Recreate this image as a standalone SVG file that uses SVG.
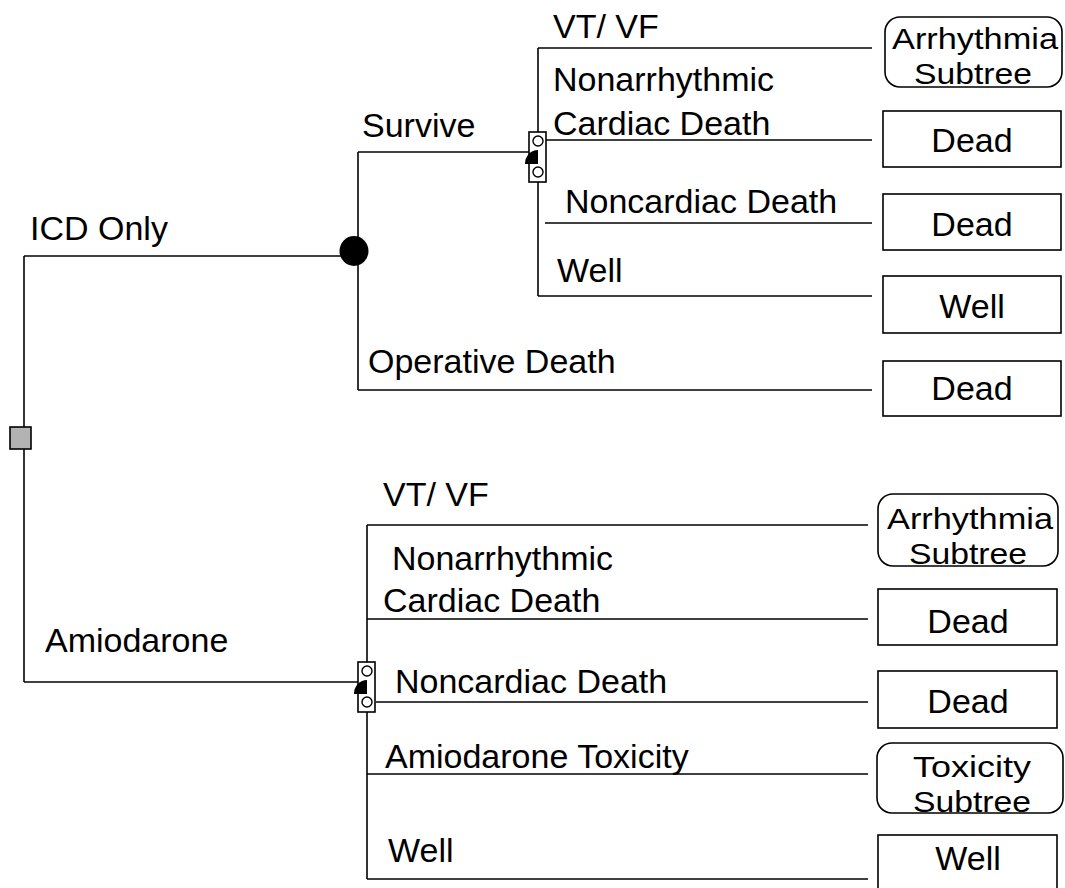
<svg xmlns="http://www.w3.org/2000/svg" width="1065" height="888" viewBox="0 0 1065 888">
<style>
.ln{stroke:#000;stroke-width:1.6;fill:none}
.t{font-family:"Liberation Sans",Arial,sans-serif;font-size:34px;fill:#000}
.s{font-family:"Liberation Sans",Arial,sans-serif;font-size:30px;fill:#000}
.c{text-anchor:middle}
.box{fill:#fff;stroke:#000;stroke-width:1.6}
.mk{fill:#fff;stroke:#000;stroke-width:1.6}
.sc{fill:#fff;stroke:#000;stroke-width:1.4}
</style>
<defs>
<g id="markov">
<rect class="mk" x="-9" y="-21" width="17" height="50"/>
<circle class="sc" cx="0" cy="-12" r="5"/>
<circle class="sc" cx="0" cy="19" r="5"/>
<path d="M-13,11 A13,14 0 0 1 0,-3 L0,11 Z" fill="#000"/>
</g>
</defs>
<g id="connectors">
<path class="ln" d="M24,256 V682"/>
<path class="ln" d="M24,256 H354"/>
<path class="ln" d="M24,682 H358"/>
<path class="ln" d="M358,152 V390"/>
<path class="ln" d="M358,152 H529"/>
<path class="ln" d="M358,390 H872"/>
<path class="ln" d="M538,48 V296"/>
<path class="ln" d="M538,48 H872"/>
<path class="ln" d="M546,140 H872"/>
<path class="ln" d="M545,223 H872"/>
<path class="ln" d="M538,296 H872"/>
<path class="ln" d="M367,525 V879"/>
<path class="ln" d="M367,525 H868"/>
<path class="ln" d="M367,619 H868"/>
<path class="ln" d="M376,702 H868"/>
<path class="ln" d="M367,774 H868"/>
<path class="ln" d="M367,879 H868"/>
</g>
<g id="decision"><rect x="10" y="427" width="21" height="22" fill="#b3b3b3" stroke="#000" stroke-width="1.6"/></g>
<g id="chance"><ellipse cx="354" cy="251" rx="14.5" ry="15" fill="#000"/></g>
<g id="markov1"><use href="#markov" x="538" y="153"/></g>
<g id="markov2"><use href="#markov" x="367" y="683"/></g>
<g id="labels">
<text class="t" x="30" y="240">ICD Only</text>
<text class="t" x="45" y="652">Amiodarone</text>
<text class="t" x="362" y="137">Survive</text>
<text class="t" x="368" y="373">Operative Death</text>
<text class="t" x="553" y="38">VT/ VF</text>
<text class="t" x="553" y="91">Nonarrhythmic</text>
<text class="t" x="553" y="135">Cardiac Death</text>
<text class="t" x="565" y="213">Noncardiac Death</text>
<text class="t" x="557" y="282">Well</text>
<text class="t" x="383" y="506">VT/ VF</text>
<text class="t" x="392" y="570">Nonarrhythmic</text>
<text class="t" x="383" y="612">Cardiac Death</text>
<text class="t" x="395" y="693">Noncardiac Death</text>
<text class="t" x="385" y="768">Amiodarone Toxicity</text>
<text class="t" x="388" y="862">Well</text>
</g>
<g id="n-arr1"><rect class="box" x="885" y="17" width="177" height="70" rx="15"/><text class="s c" x="975" y="49" textLength="166" lengthAdjust="spacingAndGlyphs">Arrhythmia</text><text class="s c" x="973" y="84" textLength="118" lengthAdjust="spacingAndGlyphs">Subtree</text></g>
<g id="n-dead1"><rect class="box" x="883" y="111" width="178" height="56"/><text class="t c" x="972" y="152">Dead</text></g>
<g id="n-dead2"><rect class="box" x="883" y="194" width="178" height="56"/><text class="t c" x="972" y="236">Dead</text></g>
<g id="n-well1"><rect class="box" x="883" y="276" width="178" height="57"/><text class="t c" x="972" y="318">Well</text></g>
<g id="n-dead3"><rect class="box" x="883" y="361" width="178" height="55"/><text class="t c" x="972" y="400">Dead</text></g>
<g id="n-arr2"><rect class="box" x="878" y="494" width="180" height="72" rx="15"/><text class="s c" x="970" y="529" textLength="166" lengthAdjust="spacingAndGlyphs">Arrhythmia</text><text class="s c" x="968" y="564" textLength="118" lengthAdjust="spacingAndGlyphs">Subtree</text></g>
<g id="n-dead4"><rect class="box" x="878" y="589" width="179" height="56"/><text class="t c" x="968" y="633">Dead</text></g>
<g id="n-dead5"><rect class="box" x="878" y="671" width="179" height="57"/><text class="t c" x="968" y="713">Dead</text></g>
<g id="n-tox"><rect class="box" x="877" y="743" width="186" height="70" rx="15"/><text class="s c" x="972" y="777" textLength="118" lengthAdjust="spacingAndGlyphs">Toxicity</text><text class="s c" x="972" y="812" textLength="118" lengthAdjust="spacingAndGlyphs">Subtree</text></g>
<g id="n-well2"><rect class="box" x="878" y="835" width="179" height="60"/><text class="t c" x="968" y="870">Well</text></g>
</svg>
